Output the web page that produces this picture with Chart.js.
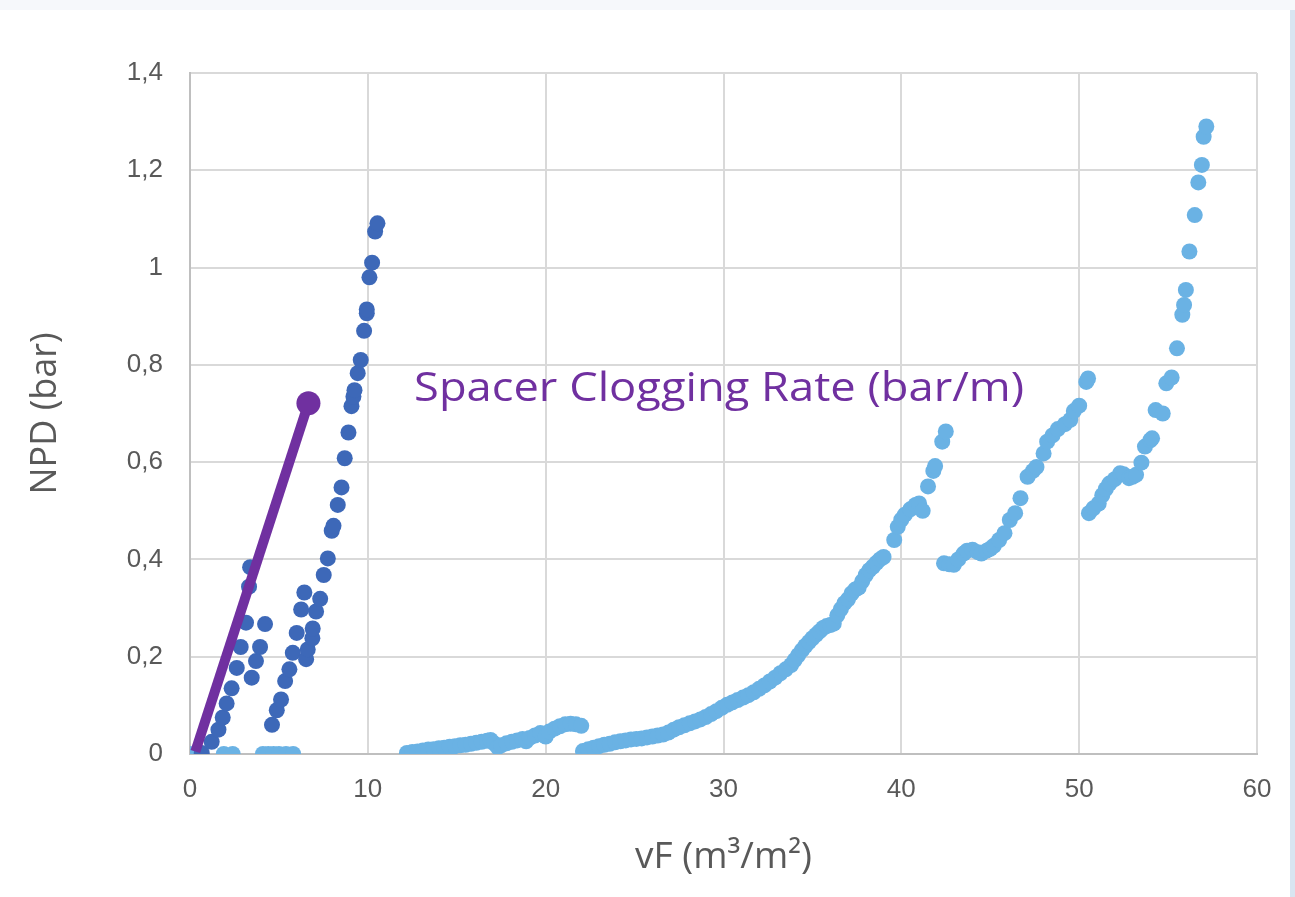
<!DOCTYPE html>
<html>
<head>
<meta charset="utf-8">
<script src="https://cdn.jsdelivr.net/npm/chart.js@4"></script>
<style>
  html, body { margin:0; padding:0; width:1295px; height:897px; background:#f6f8fb; overflow:hidden; }
  #card { position:absolute; left:0; top:10px; width:1290px; height:887px; background:#ffffff; }
  #strip { position:absolute; left:1290px; top:10px; width:5px; height:887px; background:#d9e5f1; }
  #wrap { position:absolute; left:0; top:0; width:1295px; height:897px; }
</style>
</head>
<body>
<div id="card"></div>
<div id="strip"></div>
<div id="wrap"><canvas id="c" width="1295" height="897"></canvas></div>
<script>
// ---- Data ----
const yTickLabels = ['0', '0,2', '0,4', '0,6', '0,8', '1', '1,2', '1,4'];
const xTitle = 'vF (m³/m²)';
const yTitle = 'NPD (bar)';
const annotationText = 'Spacer Clogging Rate (bar/m)';

// Dark blue run (first run)
const darkX = [0.66,1.22,1.6,1.84,2.06,2.34,2.63,2.85,3.15,3.32,3.38,3.47,3.71,3.94,4.22,4.61,4.88,5.12,5.35,5.59,5.78,6.0,6.25,6.43,6.53,6.62,6.88,6.9,7.09,7.32,7.52,7.75,7.97,8.07,8.31,8.52,8.7,8.91,9.08,9.19,9.25,9.43,9.6,9.79,9.94,9.94,10.09,10.24,10.41,10.54];
const darkY = [0.002,0.025,0.05,0.075,0.104,0.135,0.177,0.22,0.27,0.344,0.384,0.157,0.191,0.22,0.267,0.06,0.09,0.112,0.15,0.174,0.208,0.249,0.297,0.332,0.195,0.215,0.238,0.258,0.293,0.319,0.368,0.402,0.459,0.469,0.512,0.548,0.608,0.661,0.715,0.735,0.748,0.783,0.81,0.87,0.906,0.914,0.98,1.01,1.074,1.091];

// Light blue run (second run)
const lightX = [0,1.9,2.4,4.1,4.4,4.7,5.0,5.4,5.8,
  12.2,12.5,12.8,13.1,13.4,13.7,14.0,14.3,14.6,14.9,15.2,15.5,15.8,16.1,16.4,16.7,16.9,17.1,17.3,17.5,17.8,18.1,18.4,18.7,18.9,19.1,19.4,19.7,20.0,20.2,20.5,20.8,21.1,21.4,21.7,22.0,
  22.1,22.4,22.7,23.0,23.3,23.6,23.9,24.2,24.5,24.8,25.1,25.4,25.7,26.0,26.3,26.6,26.9,27.2,27.5,27.8,28.1,28.4,28.7,29.0,29.3,29.6,29.9,30.2,30.5,30.8,31.1,31.4,31.7,32.0,32.3,32.6,32.9,33.2,33.5,33.8,34.0,34.2,34.4,34.6,34.8,35.0,35.2,35.4,35.6,35.8,36.0,36.2,36.4,36.6,36.8,37.0,37.2,37.4,37.6,37.8,38.0,38.2,38.4,38.6,38.8,39.0,39.6,39.8,40.0,40.2,40.5,40.8,41.0,41.2,41.5,41.8,41.9,42.3,42.5,
  42.4,42.7,42.95,43.2,43.5,43.7,44.0,44.3,44.5,44.8,45.0,45.2,45.5,45.8,46.1,46.4,46.7,47.1,47.4,47.6,48.0,48.2,48.5,48.8,49.2,49.5,49.7,50.0,50.4,50.5,
  50.55,50.8,51.1,51.3,51.5,51.7,52.0,52.3,52.5,52.8,53.0,53.2,53.5,53.7,54.0,54.1,54.3,54.7,54.9,55.2,55.5,55.8,55.9,56.0,56.2,56.5,56.7,56.9,57.0,57.15];
const lightY = [0,0,0,0,0,0,0,0,0,
  0.002,0.004,0.005,0.007,0.009,0.010,0.012,0.013,0.015,0.016,0.018,0.019,0.021,0.023,0.025,0.027,0.029,0.022,0.014,0.018,0.022,0.025,0.028,0.031,0.026,0.033,0.038,0.043,0.036,0.046,0.052,0.057,0.061,0.062,0.061,0.058,
  0.006,0.010,0.013,0.016,0.019,0.021,0.024,0.026,0.028,0.030,0.031,0.032,0.034,0.036,0.038,0.040,0.044,0.050,0.055,0.059,0.063,0.067,0.071,0.076,0.082,0.088,0.095,0.101,0.106,0.111,0.116,0.121,0.127,0.134,0.141,0.149,0.157,0.166,0.174,0.183,0.193,0.203,0.213,0.222,0.230,0.238,0.245,0.252,0.259,0.263,0.265,0.268,0.285,0.298,0.310,0.318,0.330,0.338,0.342,0.355,0.368,0.378,0.385,0.393,0.400,0.405,0.440,0.467,0.482,0.492,0.503,0.512,0.515,0.500,0.550,0.582,0.592,0.642,0.663,
  0.392,0.390,0.389,0.400,0.412,0.418,0.420,0.415,0.412,0.418,0.422,0.428,0.440,0.454,0.481,0.495,0.526,0.570,0.582,0.590,0.618,0.642,0.655,0.668,0.678,0.687,0.705,0.716,0.765,0.772,
  0.495,0.505,0.515,0.532,0.545,0.556,0.565,0.577,0.575,0.567,0.570,0.574,0.599,0.632,0.645,0.649,0.707,0.700,0.762,0.774,0.834,0.903,0.923,0.954,1.033,1.108,1.175,1.211,1.269,1.29];

// Purple clogging-rate line
const rateX = [0.3, 6.66];
const rateY = [0.005, 0.721];
const annotationPos = { x: 12.6, y: 0.75 };
const annotationWidth = 610;

const toPts = (xs, ys) => xs.map((x, i) => ({ x: x, y: ys[i] }));

const annotationPlugin = {
  id: 'annot',
  afterDatasetsDraw(chart) {
    const { ctx, scales } = chart;
    const px = scales.x.getPixelForValue(annotationPos.x);
    const py = scales.y.getPixelForValue(annotationPos.y);
    ctx.save();
    ctx.font = '40px "Open Sans"';
    ctx.fillStyle = '#7030A0';
    ctx.textAlign = 'left';
    ctx.textBaseline = 'middle';
    const w = ctx.measureText(annotationText).width;
    ctx.translate(px, py);
    ctx.scale(annotationWidth / w, 1);
    ctx.fillText(annotationText, 0, 0);
    ctx.restore();
  }
};

new Chart(document.getElementById('c'), {
  type: 'scatter',
  data: {
    datasets: [
      { label: 'rate', data: toPts(rateX, rateY), showLine: true, borderColor: '#7030A0', backgroundColor: '#7030A0',
        borderWidth: 10, pointRadius: [0, 12], pointHoverRadius: [0, 12], pointBorderWidth: 0, order: 0 },
      { label: 'run1', data: toPts(darkX, darkY), backgroundColor: '#3D68B8', borderColor: '#3D68B8',
        pointRadius: 8, pointBorderWidth: 0, order: 1 },
      { label: 'run2', data: toPts(lightX, lightY), backgroundColor: '#6AB2E4', borderColor: '#6AB2E4',
        pointRadius: 8, pointBorderWidth: 0, order: 2 }
    ]
  },
  options: {
    responsive: false,
    animation: false,
    events: [],
    layout: { padding: { left: 0, right: 38, top: 73, bottom: 0 } },
    plugins: { legend: { display: false }, tooltip: { enabled: false } },
    scales: {
      x: {
        type: 'linear', min: 0, max: 60,
        afterFit(s) { s.height = 143; },
        ticks: { stepSize: 10, color: '#595959', font: { family: 'Liberation Sans', size: 26 }, padding: 20 },
        grid: { color: '#d9d9d9', lineWidth: 2, drawTicks: false },
        border: { color: '#bfbfbf', width: 2 },
        title: { display: true, text: xTitle, color: '#595959', font: { family: 'Open Sans', size: 37 }, padding: { top: 0, bottom: 17 } }
      },
      y: {
        type: 'linear', min: 0, max: 1.4,
        afterFit(s) { s.width = 190; },
        ticks: { stepSize: 0.2, color: '#595959', font: { family: 'Liberation Sans', size: 26 }, padding: 27,
          callback: (v, i) => yTickLabels[i] },
        grid: { color: '#d9d9d9', lineWidth: 2, drawTicks: false },
        border: { color: '#bfbfbf', width: 2 },
        title: { display: true, text: yTitle, color: '#595959', font: { family: 'Open Sans', size: 36 }, padding: { top: 24, bottom: 0 } }
      }
    }
  },
  plugins: [annotationPlugin]
});
</script>
</body>
</html>
